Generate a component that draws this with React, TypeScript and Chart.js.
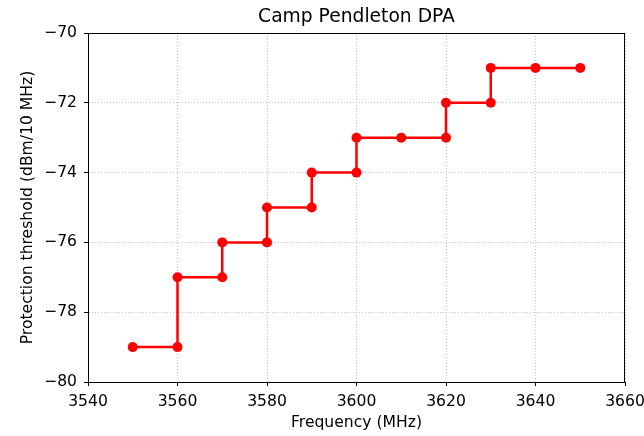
import React, { useEffect, useRef } from "react";
import { Chart, registerables } from "chart.js";

Chart.register(...registerables);

const chartTitle = "Camp Pendleton DPA";
const xLabel = "Frequency (MHz)";
const yLabel = "Protection threshold (dBm/10 MHz)";
const freqs = [3550, 3560, 3560, 3570, 3570, 3580, 3580, 3590, 3590, 3600, 3600, 3610, 3620, 3620, 3630, 3630, 3640, 3650];
const thresholds = [-79, -79, -77, -77, -76, -76, -75, -75, -74, -74, -73, -73, -73, -72, -72, -71, -71, -71];
const xRange = [3540, 3660];
const yRange = [-80, -70];

const FONT = "'DejaVu Sans', sans-serif";
const FS = 15.6;

const framePlugin = {
  id: "frame",
  afterDraw(chart: any) {
    const { ctx, chartArea } = chart;
    ctx.save();
    ctx.strokeStyle = "#000";
    ctx.lineWidth = 1;
    ctx.strokeRect(
      Math.round(chartArea.left) + 0.5,
      Math.round(chartArea.top) + 0.5,
      Math.round(chartArea.right - chartArea.left) - 1,
      Math.round(chartArea.bottom - chartArea.top)
    );
    ctx.fillStyle = "#000";
    ctx.font = `18.7px ${FONT}`;
    ctx.textAlign = "center";
    ctx.textBaseline = "alphabetic";
    ctx.fillText(chartTitle, (chartArea.left + chartArea.right) / 2, 22);
    ctx.restore();
  },
};

export default function App() {
  const ref = useRef<HTMLCanvasElement>(null);
  useEffect(() => {
    if (!ref.current) return;
    const fmt = (v: any) => (v < 0 ? "\u2212" + Math.abs(v) : String(v));
    const gridOpts = {
      color: "#b0b0b0",
      lineWidth: 0.8,
      tickColor: "#000",
      tickLength: 4,
      tickBorderDash: [],
      tickWidth: 1,
    };
    const chart = new Chart(ref.current, {
      type: "scatter",
      data: {
        datasets: [
          {
            data: freqs.map((f, i) => ({ x: f, y: thresholds[i] })),
            showLine: true,
            borderColor: "#ff0000",
            backgroundColor: "#ff0000",
            borderWidth: 2.5,
            pointRadius: 5,
            pointBorderWidth: 0,
            pointBackgroundColor: "#ff0000",
          },
        ],
      },
      options: {
        responsive: false,
        animation: false,
        layout: { padding: { left: 0, right: 19, top: 33, bottom: 0 } },
        plugins: { legend: { display: false }, tooltip: { enabled: false }, title: { display: false } },
        scales: {
          x: {
            type: "linear",
            min: xRange[0],
            max: xRange[1],
            afterFit: (s: any) => {
              s.height = 54;
              s.paddingLeft = 0;
              s.paddingRight = 0;
            },
            ticks: {
              stepSize: 20,
              color: "#000",
              font: { family: FONT, size: FS },
              padding: 7,
              maxRotation: 0,
              callback: (v: any) => fmt(v),
            },
            grid: gridOpts,
            border: { display: true, color: "#000", width: 1, dash: [1, 2] },
            title: {
              display: true,
              text: xLabel,
              color: "#000",
              font: { family: FONT, size: FS },
              padding: { top: 0, bottom: 4 },
            },
          },
          y: {
            type: "linear",
            min: yRange[0],
            max: yRange[1],
            afterFit: (s: any) => {
              s.width = 88;
              s.paddingTop = 0;
              s.paddingBottom = 0;
            },
            ticks: {
              stepSize: 2,
              color: "#000",
              font: { family: FONT, size: FS },
              padding: 7,
              callback: (v: any) => fmt(v),
            },
            grid: gridOpts,
            border: { display: true, color: "#000", width: 1, dash: [1, 2] },
            title: {
              display: true,
              text: yLabel,
              color: "#000",
              font: { family: FONT, size: FS },
              padding: { top: 18.5, bottom: 0 },
            },
          },
        },
      },
      plugins: [framePlugin],
    } as any);
    return () => chart.destroy();
  }, []);
  return (
    <div style={{ position: "absolute", left: 0, top: 0, width: 644, height: 436 }}>
      <canvas ref={ref} width={644} height={436} style={{ width: 644, height: 436 }} />
    </div>
  );
}
